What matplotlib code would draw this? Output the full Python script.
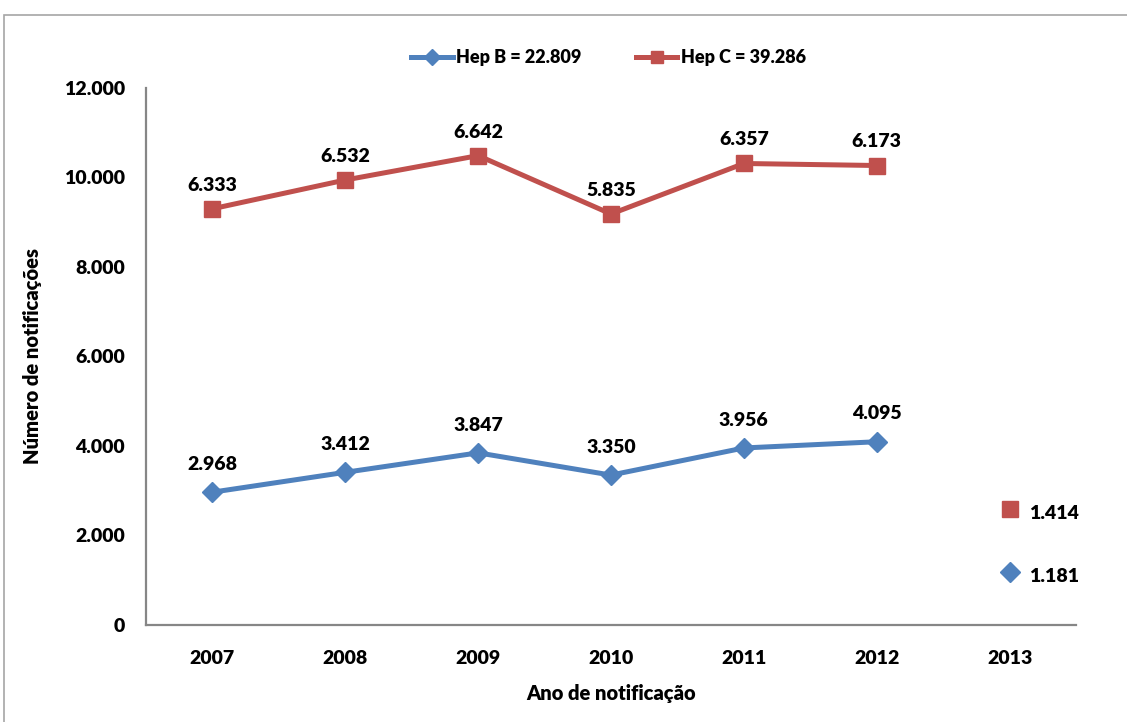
import matplotlib.pyplot as plt
from matplotlib.patches import Rectangle
from matplotlib.lines import Line2D

plt.rcParams['font.family'] = ['Lato', 'DejaVu Sans']
plt.rcParams['font.weight'] = 'heavy'

# Notifications per year (2013 is a partial year, shown apart from the lines)
years = ['2007', '2008', '2009', '2010', '2011', '2012', '2013']
hep_b = [2968, 3412, 3847, 3350, 3956, 4095, 1181]
hep_c = [6333, 6532, 6642, 5835, 6357, 6173, 1414]

BLUE = '#4F81BD'
RED = '#C0504D'
GREY = '#868686'
W = 'heavy'


def fmt(v):
    # thousands separator as a dot
    return f"{v:,}".replace(',', '.')


# stacked: Hep C is drawn on top of Hep B
stack_c = [b + c for b, c in zip(hep_b, hep_c)]
x = list(range(len(years)))

fig = plt.figure(figsize=(11.27, 7.22), dpi=100)
ax = fig.add_axes([146 / 1127, 1 - 625 / 722, 930 / 1127, 537 / 722])

# light frame round the chart
fig.patches.append(Rectangle((4 / 1127, -0.1), 1.2, 1 - 15 / 722 + 0.1,
                             transform=fig.transFigure, fill=False,
                             edgecolor='#A6A6A6', linewidth=1.2))

ax.plot(x[:6], hep_b[:6], color=BLUE, linewidth=3.6, marker='D', markersize=10,
        solid_capstyle='round')
ax.plot(x[:6], stack_c[:6], color=RED, linewidth=3.6, marker='s', markersize=12)
ax.plot(x[6], hep_b[6], color=BLUE, marker='D', markersize=10, linestyle='none')
ax.plot(x[6], stack_c[6], color=RED, marker='s', markersize=12, linestyle='none')

for i in range(6):
    ax.annotate(fmt(hep_b[i]), (x[i], hep_b[i]), xytext=(0, 20), textcoords='offset points',
                ha='center', va='center', fontsize=14, fontweight=W)
    ax.annotate(fmt(hep_c[i]), (x[i], stack_c[i]), xytext=(0, 17), textcoords='offset points',
                ha='center', va='center', fontsize=14, fontweight=W)
ax.annotate(fmt(hep_b[6]), (x[6], hep_b[6]), xytext=(14, -3), textcoords='offset points',
            ha='left', va='center', fontsize=14, fontweight=W)
ax.annotate(fmt(hep_c[6]), (x[6], stack_c[6]), xytext=(14, -3), textcoords='offset points',
            ha='left', va='center', fontsize=14, fontweight=W)

ax.set_xlim(-0.5, 6.5)
ax.set_ylim(0, 12000)
ax.set_xticks(x)
ax.set_xticklabels(years)
yt = list(range(0, 12001, 2000))
ax.set_yticks(yt)
ax.set_yticklabels([fmt(v) for v in yt])
ax.tick_params(length=0, labelsize=14, pad=15)
ax.tick_params(axis='x', pad=18)
for lbl in ax.get_xticklabels() + ax.get_yticklabels():
    lbl.set_fontweight(W)

for s in ['top', 'right']:
    ax.spines[s].set_visible(False)
for s in ['left', 'bottom']:
    ax.spines[s].set_color(GREY)
    ax.spines[s].set_linewidth(1.6)

ax.set_xlabel('Ano de notificação', fontsize=14.5, fontweight=W, labelpad=12)
ax.set_ylabel('Número de notificações', fontsize=14.5, fontweight=W, labelpad=16)

handles = [
    Line2D([], [], color=BLUE, linewidth=3.6, marker='D', markersize=8),
    Line2D([], [], color=RED, linewidth=3.6, marker='s', markersize=9),
]
labels = [f"Hep B = {fmt(sum(hep_b))}", f"Hep C = {fmt(sum(hep_c))}"]
fig.legend(handles, labels, loc='center', bbox_to_anchor=(0.54, 1 - 58 / 722), ncol=2,
           frameon=False, prop={'size': 13, 'weight': W},
           handlelength=2.3, handletextpad=0.2, columnspacing=3)

fig.savefig('out.png', dpi=100)
